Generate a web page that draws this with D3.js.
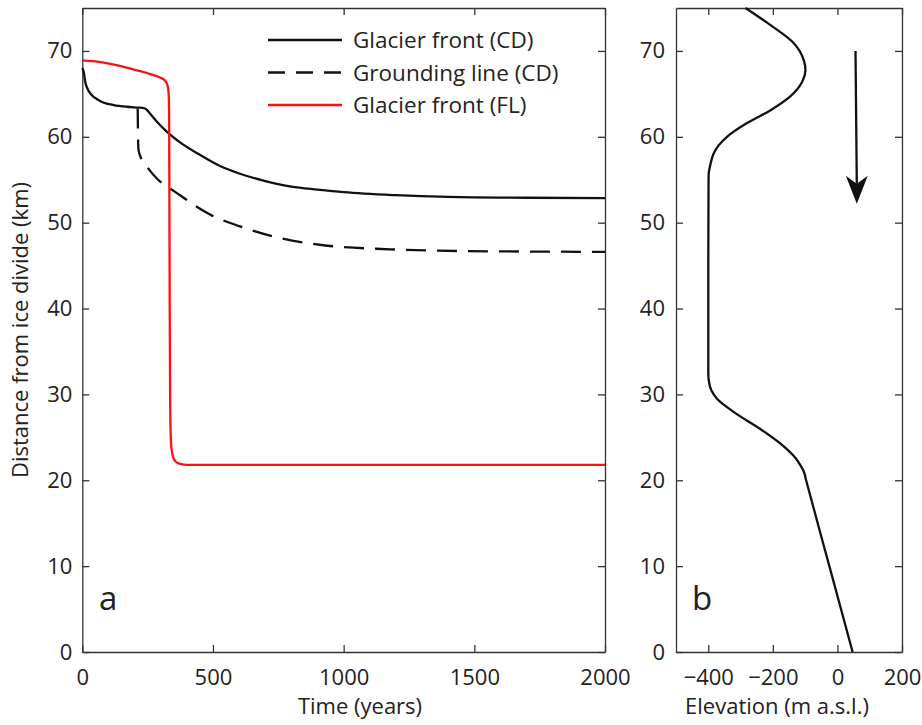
<!DOCTYPE html>
<html>
<head>
<meta charset="utf-8">
<script src="https://cdn.jsdelivr.net/npm/d3@7.9.0/dist/d3.min.js"></script>
<style>
  body { margin: 0; background: #fff; }
  svg { display: block; font-family: "Open Sans", sans-serif; }
  .axis path, .axis line { stroke: #333; stroke-width: 1.3; }
  .axis text { font-size: 22px; fill: #222; font-family: "Open Sans", sans-serif; }
</style>
</head>
<body>
<svg id="chart" width="922" height="725"></svg>
<script>
// panel a: [time (years), distance from ice divide (km)]
const frontCD = [[0,68.0],[5,67.6],[12,66.3],[20,65.6],[35,64.9],[55,64.4],[80,64.0],[120,63.7],[170,63.5],
  [215,63.4],[235,63.35],[245,63.2],[255,62.85],[270,62.3],[290,61.6],[323,60.6],[374,59.35],[450,57.9],
  [527,56.6],[603,55.7],[700,54.85],[800,54.2],[900,53.85],[1000,53.55],[1200,53.2],[1400,53.0],[1700,52.9],[2000,52.85]];
const groundingCD = [[212,63.3],[213,60.5],[215,58.5],[225,57.5],[250,56.4],[290,55.0],[330,54.1],[374,53.2],
  [430,52.0],[492,50.9],[600,49.6],[729,48.4],[915,47.4],[1177,46.9],[1441,46.7],[2000,46.6]];
const frontFL = [[0,68.9],[70,68.7],[130,68.35],[195,67.85],[250,67.4],[297,66.9],[315,66.6],[325,66.1],
  [330,65.2],[332,63],[333,55],[334.5,40],[336,30],[338,25.5],[342,23.5],[350,22.5],[365,22.0],[400,21.8],[2000,21.8]];

// panel b: [distance (km), elevation (m a.s.l.)]
const bedProfile = [[0,47],[10,-25],[20,-97],[21,-104],[21.7,-114],[22.5,-128],[24,-168],[26,-240],[28,-323],[29.5,-373],[30.5,-391],
  [31.5,-398],[32.5,-400],[45,-400],[55.5,-399],[57,-392],[58,-384],[59,-368],[60,-342],[61.6,-280],[63.1,-207],
  [64.7,-146],[66.4,-109],[67.8,-99],[68.9,-104],[70.9,-135],[73,-207],[75,-285]];
const arrowElev = [56, 60];
const arrowKm = [70, 52.2];

const timeTicks = [0, 500, 1000, 1500, 2000];
const kmTicks = [0, 10, 20, 30, 40, 50, 60, 70];
const elevTicks = [-400, -200, 0, 200];
const legendNames = ["Glacier front (CD)", "Grounding line (CD)", "Glacier front (FL)"];

const svg = d3.select("#chart");
svg.append("rect").attr("width", 922).attr("height", 725).attr("fill", "#fff");

const y = d3.scaleLinear().domain([0, 75]).range([652, 8]);
const xA = d3.scaleLinear().domain([0, 2000]).range([82.3, 605]);
const xB = d3.scaleLinear().domain([-500, 200]).range([676, 902]);

function box(x, xt, labelPad) {
  svg.append("g").attr("class", "axis").attr("transform", `translate(0,${y(0)})`)
    .call(d3.axisBottom(x).tickValues(xt).tickSizeInner(-7).tickSizeOuter(0).tickPadding(17).tickFormat(d3.format("d")));
  svg.append("g").attr("class", "axis").attr("transform", `translate(0,${y(75)})`)
    .call(d3.axisTop(x).tickValues(xt).tickSizeInner(-7).tickSizeOuter(0).tickFormat(""));
  svg.append("g").attr("class", "axis").attr("transform", `translate(${x.range()[0]},0)`)
    .call(d3.axisLeft(y).tickValues(kmTicks).tickSizeInner(-7).tickSizeOuter(0).tickPadding(labelPad));
  svg.append("g").attr("class", "axis").attr("transform", `translate(${x.range()[1]},0)`)
    .call(d3.axisRight(y).tickValues(kmTicks).tickSizeInner(-7).tickSizeOuter(0).tickFormat(""));
}
box(xA, timeTicks, 10);
box(xB, elevTicks, 11);

// panel a lines
const lineA = d3.line().x(d => xA(d[0])).y(d => y(d[1])).curve(d3.curveMonotoneX);
svg.append("path").datum(groundingCD).attr("d", lineA)
  .attr("fill", "none").attr("stroke", "#111").attr("stroke-width", 2.3).attr("stroke-dasharray", "20,11");
svg.append("path").datum(frontCD).attr("d", lineA)
  .attr("fill", "none").attr("stroke", "#111").attr("stroke-width", 2.3);
svg.append("path").datum(frontFL).attr("d", lineA)
  .attr("fill", "none").attr("stroke", "#ff1010").attr("stroke-width", 2.3);

// legend
const legend = svg.append("g").attr("transform", "translate(268,40)");
const legendStyles = [
  { stroke: "#111", dash: null },
  { stroke: "#111", dash: "17,11" },
  { stroke: "#ff1010", dash: null }
];
legendNames.forEach((name, i) => {
  const g = legend.append("g").attr("transform", `translate(0,${i * 32.5})`);
  g.append("line").attr("x1", 0).attr("x2", 74).attr("y1", 0).attr("y2", 0)
    .attr("stroke", legendStyles[i].stroke).attr("stroke-width", 2.3)
    .attr("stroke-dasharray", legendStyles[i].dash);
  g.append("text").attr("x", 85).attr("y", 8).attr("font-size", 22.5).attr("fill", "#222").text(name);
});

// panel b profile
const lineB = d3.line().x(d => xB(d[1])).y(d => y(d[0])).curve(d3.curveMonotoneY);
svg.append("path").datum(bedProfile).attr("d", lineB)
  .attr("fill", "none").attr("stroke", "#111").attr("stroke-width", 2.3);

// arrow
const ax0 = xB(arrowElev[0]), ay0 = y(arrowKm[0]);
const ax1 = xB(arrowElev[1]), ay1 = y(arrowKm[1]);
svg.append("line").attr("x1", ax0).attr("y1", ay0).attr("x2", ax1).attr("y2", ay1 - 20)
  .attr("stroke", "#111").attr("stroke-width", 2.3);
svg.append("path")
  .attr("d", `M${ax1},${ay1} L${ax1 - 11},${ay1 - 28} L${ax1},${ay1 - 20} L${ax1 + 11},${ay1 - 28} Z`)
  .attr("fill", "#111");

// labels
svg.append("text").attr("x", 360).attr("y", 714).attr("text-anchor", "middle")
  .attr("font-size", 22).attr("fill", "#222").text("Time (years)");
svg.append("text").attr("x", 777).attr("y", 714).attr("text-anchor", "middle")
  .attr("font-size", 22).attr("fill", "#222").text("Elevation (m a.s.l.)");
svg.append("text").attr("transform", "translate(28,330) rotate(-90)").attr("text-anchor", "middle")
  .attr("font-size", 22).attr("fill", "#222").text("Distance from ice divide (km)");
svg.append("text").attr("x", 99).attr("y", 610).attr("font-size", 33).attr("fill", "#222").text("a");
svg.append("text").attr("x", 692).attr("y", 610).attr("font-size", 33).attr("fill", "#222").text("b");
</script>
</body>
</html>
